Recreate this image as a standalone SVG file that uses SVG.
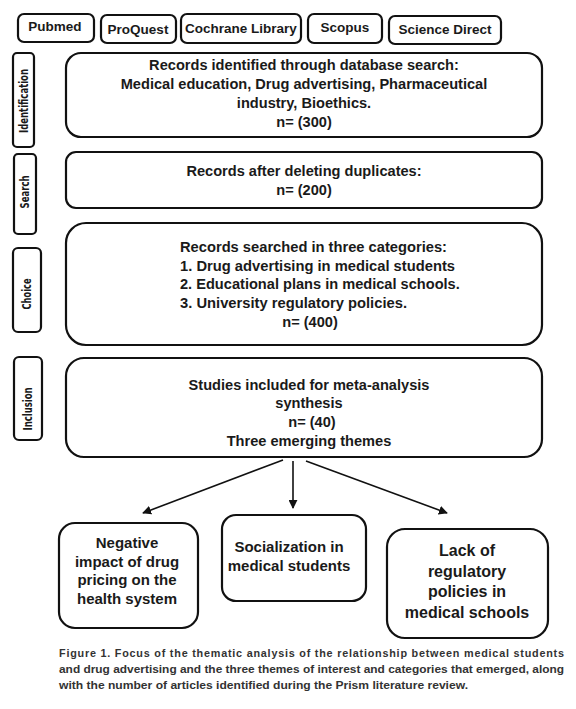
<svg xmlns="http://www.w3.org/2000/svg" width="576" height="709" viewBox="0 0 576 709">
<defs>
<style>
.b{fill:#fff;stroke:#111;stroke-width:2.2}
.t{font-family:"Liberation Sans",Arial,sans-serif;font-weight:bold;fill:#1a1a1a;font-size:14.6px;text-anchor:middle}
.h{font-size:13.5px}
.m{font-size:15px}
.r{font-size:16px}
.s{font-family:"DejaVu Sans",sans-serif;font-weight:bold;font-stretch:condensed;fill:#1a1a1a;font-size:12px;text-anchor:middle}
.c{font-family:"Liberation Sans",Arial,sans-serif;font-weight:bold;fill:#333;font-size:10.8px}
.ln{stroke:#111;stroke-width:1.6;fill:none}
</style>
<marker id="ah" viewBox="0 0 10 10" refX="9" refY="5" markerWidth="9" markerHeight="9" markerUnits="userSpaceOnUse" orient="auto"><path d="M0,0 L10,5 L0,10 z" fill="#111"/></marker>
</defs>
<rect width="576" height="709" fill="#fff"/>
<g id="pubmed"><rect class="b" x="18" y="14" width="76" height="28" rx="6"/><text class="t h" x="55" y="31">Pubmed</text></g>
<g id="proquest"><rect class="b" x="101" y="15" width="75" height="28" rx="6"/><text class="t h" x="138" y="34">ProQuest</text></g>
<g id="cochrane"><rect class="b" x="181" y="14" width="120" height="29" rx="6"/><text class="t h" x="241" y="33">Cochrane Library</text></g>
<g id="scopus"><rect class="b" x="308" y="14" width="74" height="29" rx="6"/><text class="t h" x="345" y="32">Scopus</text></g>
<g id="sciencedirect"><rect class="b" x="389" y="16" width="112" height="28" rx="6"/><text class="t h" x="445" y="34">Science Direct</text></g>

<g id="lbl-identification"><rect class="b" x="13" y="53" width="21" height="94" rx="4"/><text class="s" transform="translate(28,101) rotate(-90)" textLength="64" lengthAdjust="spacingAndGlyphs">Identification</text></g>
<g id="lbl-search"><rect class="b" x="14" y="154" width="22" height="80" rx="4"/><text class="s" transform="translate(29,192) rotate(-90)" textLength="33" lengthAdjust="spacingAndGlyphs">Search</text></g>
<g id="lbl-choice"><rect class="b" x="13" y="248" width="28" height="84" rx="5"/><text class="s" transform="translate(31,294) rotate(-90)" textLength="31" lengthAdjust="spacingAndGlyphs">Choice</text></g>
<g id="lbl-inclusion"><rect class="b" x="14" y="357" width="28" height="83" rx="5"/><text class="s" transform="translate(32,409) rotate(-90)" textLength="43" lengthAdjust="spacingAndGlyphs">Inclusion</text></g>

<g id="identification"><rect class="b" x="66" y="53" width="476" height="84" rx="15"/>
<text class="t" x="304" y="70">Records identified through database search:</text>
<text class="t" x="304" y="89">Medical education, Drug advertising, Pharmaceutical</text>
<text class="t" x="304" y="108">industry, Bioethics.</text>
<text class="t" x="304" y="127">n= (300)</text></g>

<g id="search"><rect class="b" x="66" y="152" width="476" height="56" rx="10"/>
<text class="t" x="304" y="176">Records after deleting duplicates:</text>
<text class="t" x="304" y="195">n= (200)</text></g>

<g id="choice"><rect class="b" x="66" y="223" width="476" height="122" rx="20"/>
<text class="t" x="180" y="252" style="text-anchor:start" textLength="267" lengthAdjust="spacingAndGlyphs">Records searched in three categories:</text>
<text class="t" x="180" y="271" style="text-anchor:start" textLength="275" lengthAdjust="spacingAndGlyphs">1. Drug advertising in medical students</text>
<text class="t" x="180" y="289" style="text-anchor:start">2. Educational plans in medical schools.</text>
<text class="t" x="180" y="308" style="text-anchor:start" textLength="227" lengthAdjust="spacingAndGlyphs">3. University regulatory policies.</text>
<text class="t" x="310" y="327">n= (400)</text></g>

<g id="inclusion"><rect class="b" x="66" y="358" width="476" height="99" rx="18"/>
<text class="t" x="309" y="390">Studies included for meta-analysis</text>
<text class="t" x="309" y="408">synthesis</text>
<text class="t" x="312" y="427">n= (40)</text>
<text class="t" x="309" y="446">Three emerging themes</text></g>

<g id="connectors">
<line class="ln" x1="283" y1="460" x2="143" y2="513" marker-end="url(#ah)"/>
<line class="ln" x1="293" y1="461" x2="293" y2="508" marker-end="url(#ah)"/>
<line class="ln" x1="306" y1="461" x2="447" y2="513" marker-end="url(#ah)"/>
</g>

<g id="theme-pricing"><rect class="b" x="59" y="523" width="139" height="105" rx="16"/>
<text class="t m" x="127" y="548">Negative</text>
<text class="t m" x="127" y="567">impact of drug</text>
<text class="t m" x="127" y="585">pricing on the</text>
<text class="t m" x="127" y="604">health system</text></g>

<g id="theme-socialization"><rect class="b" x="222" y="515" width="144" height="86" rx="14"/>
<text class="t m" x="289" y="552">Socialization in</text>
<text class="t m" x="289" y="571">medical students</text></g>

<g id="theme-regulatory"><rect class="b" x="387" y="529" width="161" height="109" rx="18"/>
<text class="t r" x="467" y="556">Lack of</text>
<text class="t r" x="467" y="577">regulatory</text>
<text class="t r" x="467" y="597">policies in</text>
<text class="t r" x="467" y="618">medical schools</text></g>

<g id="caption">
<text class="c" x="59" y="657" textLength="505" lengthAdjust="spacing">Figure 1. Focus of the thematic analysis of the relationship between medical students</text>
<text class="c" x="59" y="673" textLength="505" lengthAdjust="spacingAndGlyphs">and drug advertising and the three themes of interest and categories that emerged, along</text>
<text class="c" x="59" y="689" textLength="409" lengthAdjust="spacingAndGlyphs">with the number of articles identified during the Prism literature review.</text>
</g>
</svg>
